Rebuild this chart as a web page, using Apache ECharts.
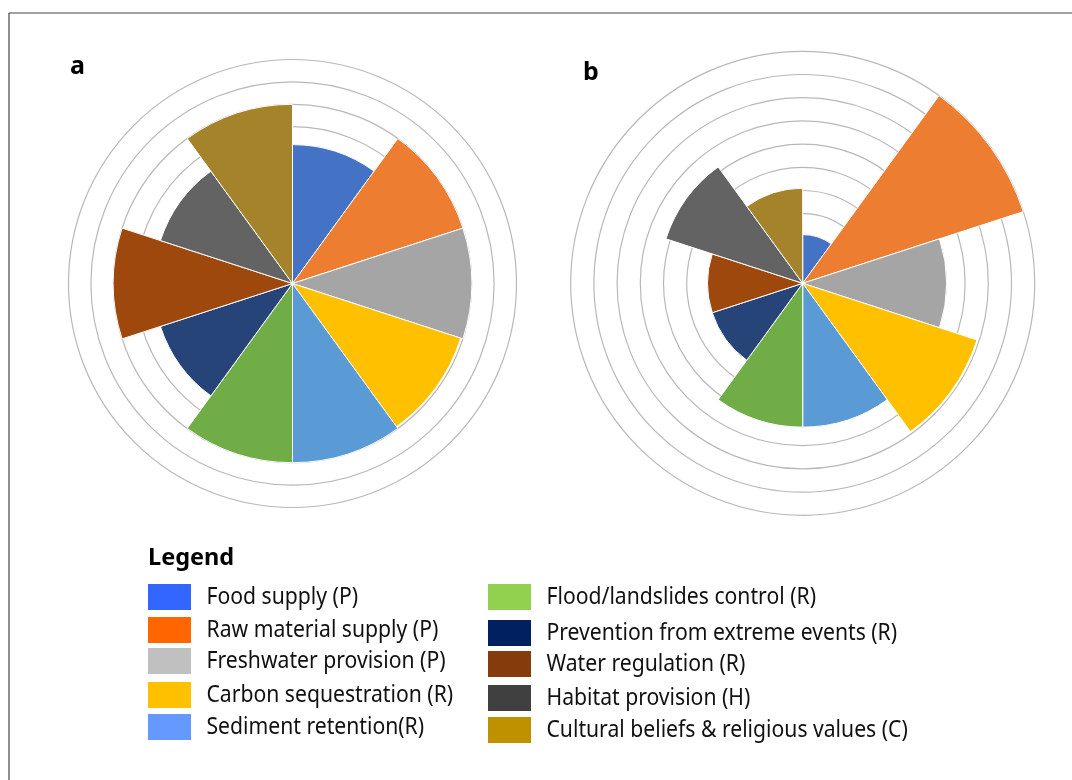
<!DOCTYPE html>
<html><head><meta charset="utf-8">
<script src="https://cdn.jsdelivr.net/npm/echarts@6/dist/echarts.min.js"></script>
<style>html,body{margin:0;padding:0;background:#fff}#c{width:1072px;height:780px}</style>
</head><body><div id="c"></div>
<script>
// ---- data ----
const categories = ['Food supply (P)','Raw material supply (P)','Freshwater provision (P)','Carbon sequestration (R)','Sediment retention(R)','Flood/landslides control (R)','Prevention from extreme events (R)','Water regulation (R)','Habitat provision (H)','Cultural beliefs & religious values (C)'];
const valuesA = [6.2, 8, 8, 7.9, 8, 8, 6.2, 8, 6.2, 8];
const valuesB = [2.1, 10, 6.2, 7.9, 6.2, 6.2, 4.1, 4.1, 6.2, 4.1];
const barColors = ['#4472c4','#ed7d31','#a5a5a5','#ffc000','#5b9bd5','#70ad47','#264478','#9e480e','#636363','#a5832a'];
const legendLabels = ['Food supply (P)','Raw material supply (P)','Freshwater provision (P)','Carbon sequestration (R)','Sediment retention(R)','Flood/landslides control (R)','Prevention from extreme events (R)','Water regulation (R)','Habitat provision (H)','Cultural beliefs & religious values (C)'];
const legendColors = ['#3366ff','#ff6600','#c0c0c0','#ffc000','#6699ff','#92d050','#002060','#843c0c','#404040','#bf9000'];
const panelLabels = ['a','b'];
const radiusMax = 10, radiusStep = 1;

// ---- layout ----
const legendRowTops = [[584,617,648,682,714],[584,620,651,685,717]];
const legendColX = [148, 488];
const FONT = 'Noto Sans';

const chart = echarts.init(document.getElementById('c'), null, {renderer:'canvas'});

function angleAx(i){
  return {polarIndex:i, type:'category', data:categories, startAngle:90, clockwise:true,
    axisLine:{show:false}, axisTick:{show:false}, axisLabel:{show:false}, splitLine:{show:false}};
}
function radiusAx(i){
  return {polarIndex:i, type:'value', min:0, max:radiusMax, interval:radiusStep,
    axisLine:{show:false}, axisTick:{show:false}, axisLabel:{show:false},
    splitLine:{show:true, lineStyle:{color:'#b8b8b8', width:1.2}}};
}
function barSeries(i, vals){
  return {type:'bar', coordinateSystem:'polar', polarIndex:i, barCategoryGap:'0%', silent:true,
    itemStyle:{borderColor:'#ffffff', borderWidth:1},
    data: vals.map((v,k)=>({value:v, itemStyle:{color:barColors[k]}}))};
}

const graphic = [];
graphic.push({type:'line', shape:{x1:9,y1:13,x2:1072,y2:13}, style:{stroke:'#444', lineWidth:1.2}});
graphic.push({type:'line', shape:{x1:9,y1:13,x2:9,y2:780}, style:{stroke:'#444', lineWidth:1.2}});
graphic.push({type:'text', x:70, y:79, style:{text:panelLabels[0], font:'bold 25px "'+FONT+'"', fill:'#000', verticalAlign:'bottom'}});
graphic.push({type:'text', x:583, y:85, style:{text:panelLabels[1], font:'bold 25px "'+FONT+'"', fill:'#000', verticalAlign:'bottom'}});
graphic.push({type:'text', x:148, y:558, style:{text:'Legend', font:'bold 23.5px "'+FONT+'"', fill:'#000', verticalAlign:'middle'}});
legendLabels.forEach((lab, k)=>{
  const col = k < 5 ? 0 : 1, row = k % 5;
  const top = legendRowTops[col][row];
  const x = legendColX[col];
  graphic.push({type:'rect', shape:{x:x, y:top, width:43, height:26}, style:{fill:legendColors[k]}});
  graphic.push({type:'text', x:x+58.5, y:top+13, scaleX:0.9,
    style:{text:lab, font:'23.5px "'+FONT+'"', fill:'#111', verticalAlign:'middle', align:'left'}});
});

chart.setOption({
  animation:false,
  backgroundColor:'#ffffff',
  polar:[{center:[292.5,283.5], radius:224},{center:[802.7,283.3], radius:232}],
  angleAxis:[angleAx(0), angleAx(1)],
  radiusAxis:[radiusAx(0), radiusAx(1)],
  series:[barSeries(0, valuesA), barSeries(1, valuesB)],
  graphic: graphic
});
</script>
</body></html>
